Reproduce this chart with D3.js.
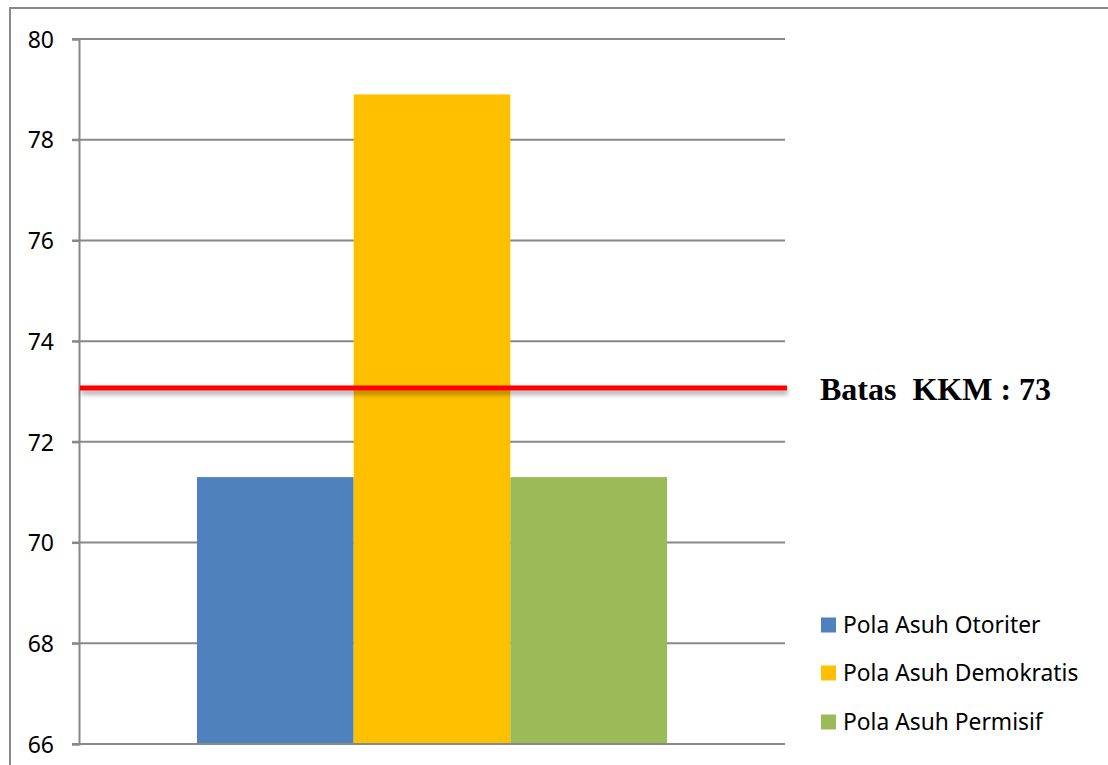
<!DOCTYPE html>
<html>
<head>
<meta charset="utf-8">
<script src="https://cdn.jsdelivr.net/npm/d3@7"></script>
<style>
  html, body { margin: 0; padding: 0; background: #fff; }
  svg { display: block; }
</style>
</head>
<body>
<svg id="chart" width="1108" height="765"></svg>
<script>
// ---- data ----
const categories = ["Pola Asuh Otoriter", "Pola Asuh Demokratis", "Pola Asuh Permisif"];
const values = [71.3, 78.9, 71.3];
const colors = ["#4F81BD", "#FFC000", "#9BBB59"];
const yTicks = [66, 68, 70, 72, 74, 76, 78, 80];
const kkmValue = 73.07;          // position of the red KKM line
const kkmLabel = "Batas  KKM : 73";

// ---- layout ----
const svg = d3.select("#chart");
const plot = { left: 79, right: 785, top: 39, bottom: 744 };

// outer frame
svg.append("rect")
  .attr("x", 10).attr("y", 8)
  .attr("width", 1108).attr("height", 800)
  .attr("fill", "none").attr("stroke", "#8a8a8a").attr("stroke-width", 2);

const y = d3.scaleLinear().domain([66, 80]).range([plot.bottom, plot.top]);
const groupStart = plot.left + 118, groupEnd = plot.right - 118;
const xBar = d3.scaleBand().domain(categories).range([groupStart, groupEnd]);

// gridlines
const grid = svg.append("g");
grid.selectAll("line").data(yTicks.filter(t => t !== 66)).join("line")
  .attr("x1", plot.left - 7).attr("x2", plot.right)
  .attr("y1", d => y(d)).attr("y2", d => y(d))
  .attr("stroke", "#888").attr("stroke-width", 2);

// y axis
const yAxis = d3.axisLeft(y).tickValues(yTicks).tickSize(7).tickPadding(18).tickFormat(d3.format("d"));
const ya = svg.append("g").attr("transform", `translate(${plot.left},0)`).call(yAxis);
ya.select(".domain").attr("stroke", "#888").attr("stroke-width", 2);
ya.selectAll(".tick line").attr("stroke", "#888").attr("stroke-width", 2);
ya.selectAll(".tick text")
  .attr("font-family", "'Noto Sans', 'Open Sans', sans-serif")
  .attr("font-size", 23).attr("fill", "#000").attr("dy", "0.36em");

// bars
svg.append("g").selectAll("rect").data(categories).join("rect")
  .attr("x", d => xBar(d))
  .attr("width", xBar.bandwidth())
  .attr("y", (d, i) => y(values[i]))
  .attr("height", (d, i) => y(66) - y(values[i]))
  .attr("fill", (d, i) => colors[i]);

// x axis line
svg.append("line")
  .attr("x1", plot.left - 7).attr("x2", plot.right)
  .attr("y1", y(66)).attr("y2", y(66))
  .attr("stroke", "#888").attr("stroke-width", 2);

// KKM red line with shadow
const defs = svg.append("defs");
const f = defs.append("filter").attr("id", "shadow")
  .attr("filterUnits", "userSpaceOnUse")
  .attr("x", 0).attr("y", 300).attr("width", 900).attr("height", 200);
f.append("feGaussianBlur").attr("in", "SourceAlpha").attr("stdDeviation", 2.5).attr("result", "blur");
f.append("feOffset").attr("in", "blur").attr("dx", 1).attr("dy", 4).attr("result", "off");
f.append("feComponentTransfer").attr("in", "off").attr("result", "sh")
  .append("feFuncA").attr("type", "linear").attr("slope", 0.35);
const merge = f.append("feMerge");
merge.append("feMergeNode").attr("in", "sh");
merge.append("feMergeNode").attr("in", "SourceGraphic");

svg.append("rect")
  .attr("x", plot.left + 1).attr("width", plot.right - plot.left + 1)
  .attr("y", y(kkmValue) - 2.5).attr("height", 5)
  .attr("fill", "#FF0000")
  .attr("filter", "url(#shadow)");

svg.append("text")
  .attr("x", 820).attr("y", 400)
  .attr("font-family", "'Liberation Serif', 'Times New Roman', serif")
  .attr("font-weight", "bold").attr("font-size", 32).attr("fill", "#000")
  .attr("xml:space", "preserve")
  .style("white-space", "pre")
  .text(kkmLabel);

// legend
const legend = svg.append("g");
const rowY = [625, 673, 722];
const lg = legend.selectAll("g").data(categories).join("g")
  .attr("transform", (d, i) => `translate(821,${rowY[i]})`);
lg.append("rect").attr("x", 0).attr("y", -7.5).attr("width", 15).attr("height", 15)
  .attr("fill", (d, i) => colors[i]);
lg.append("text").attr("x", 22).attr("y", 0).attr("dy", "0.36em")
  .attr("font-family", "'Noto Sans', 'Open Sans', sans-serif")
  .attr("font-size", 22.8).attr("fill", "#000")
  .text(d => d);
</script>
</body>
</html>
